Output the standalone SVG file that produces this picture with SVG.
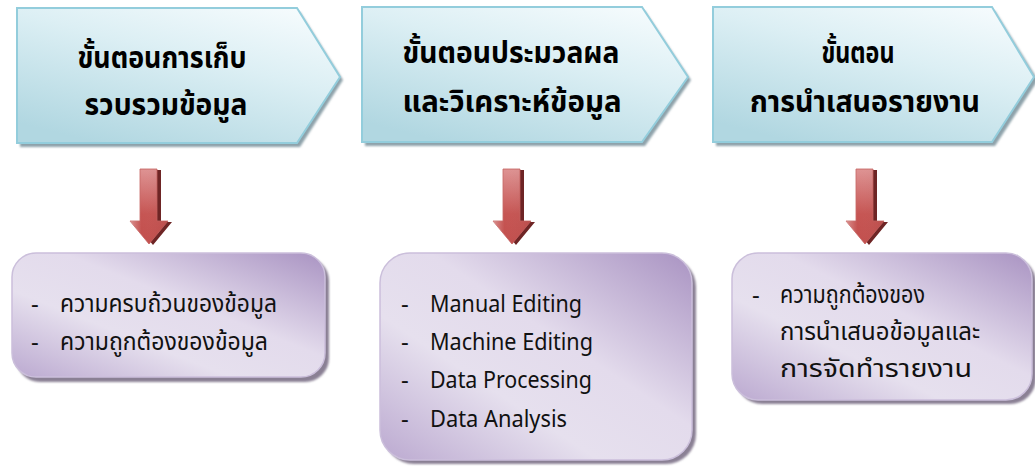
<svg xmlns="http://www.w3.org/2000/svg" width="1035" height="470" viewBox="0 0 1035 470">
<defs>
<linearGradient id="gBlue" x1="0.85" y1="0" x2="0.25" y2="1">
<stop offset="0" stop-color="#f5fbfd"/>
<stop offset="0.4" stop-color="#dceff4"/>
<stop offset="1" stop-color="#b1d7e1"/>
</linearGradient>
<linearGradient id="gPurple" x1="1" y1="0" x2="0" y2="1">
<stop offset="0" stop-color="#a993c2"/>
<stop offset="0.42" stop-color="#e3dbec"/>
<stop offset="0.65" stop-color="#e6e0ee"/>
<stop offset="1" stop-color="#bba9d0"/>
</linearGradient>
<linearGradient id="gRed" x1="0" y1="0" x2="0" y2="1">
<stop offset="0" stop-color="#de9393"/>
<stop offset="0.6" stop-color="#c65553"/>
<stop offset="1" stop-color="#c24f4d"/>
</linearGradient>
<linearGradient id="gRedH" x1="0" y1="0" x2="1" y2="0">
<stop offset="0" stop-color="#ffffff" stop-opacity="0.35"/>
<stop offset="0.3" stop-color="#ffffff" stop-opacity="0"/>
<stop offset="1" stop-color="#000000" stop-opacity="0.05"/>
</linearGradient>
<filter id="blur" x="-10%" y="-10%" width="120%" height="120%">
<feGaussianBlur stdDeviation="1.2"/>
</filter>
<symbol id="arrow" overflow="visible">
<path d="M-9,-74 H8 V-22 H19 L0,1 L-19,-22 H-9 Z"/>
</symbol>
</defs>
<style>
.chev{fill:url(#gBlue);stroke:#93cddc;stroke-width:2}
.chevsh{fill:#8ea2aa;filter:url(#blur)}
.box{fill:url(#gPurple);stroke:#cbbfdb;stroke-width:1.5}
.boxsh{fill:#8a8094;filter:url(#blur)}
.ttl{font-family:"Noto Sans","Noto Sans Thai","Leelawadee UI",Tahoma,sans-serif;font-weight:bold;font-size:30px;fill:#000;text-anchor:middle}
.itm{font-family:"Noto Sans","Noto Sans Thai","Leelawadee UI",Tahoma,sans-serif;font-size:24px;fill:#111}
.lat{font-size:23px}
.ash{fill:#6e2525}
.arr{fill:url(#gRed);stroke:#c4605e;stroke-width:0.8}
.arrhl{fill:url(#gRedH)}
</style>

<g id="step1">
<path class="chevsh" d="M20,12 H300 L343,80 L300,147 H20 Z"/>
<path class="chev" d="M17,8 H297 L340,77 L297,143 H17 Z"/>
<text class="ttl" x="162" y="68" textLength="169" lengthAdjust="spacingAndGlyphs">ขั้นตอนการเก็บ</text>
<text class="ttl" x="166" y="115" textLength="163" lengthAdjust="spacingAndGlyphs">รวบรวมข้อมูล</text>
</g>

<g id="step2">
<path class="chevsh" d="M365,11 H645 L691,80 L645,146 H365 Z"/>
<path class="chev" d="M362,7 H642 L688,77 L642,142 H362 Z"/>
<text class="ttl" x="511" y="63" textLength="217" lengthAdjust="spacingAndGlyphs">ขั้นตอนประมวลผล</text>
<text class="ttl" x="512" y="112" textLength="219" lengthAdjust="spacingAndGlyphs">และวิเคราะห์ข้อมูล</text>
</g>

<g id="step3">
<path class="chevsh" d="M716,11 H995 L1038,80 L995,146 H716 Z"/>
<path class="chev" d="M713,7 H992 L1034,77 L992,142 H713 Z"/>
<text class="ttl" x="858" y="63" textLength="73" lengthAdjust="spacingAndGlyphs">ขั้นตอน</text>
<text class="ttl" x="865" y="112" textLength="230" lengthAdjust="spacingAndGlyphs">การนำเสนอรายงาน</text>
</g>

<g id="connectors">
<g transform="translate(149,243)">
<use href="#arrow" class="ash" transform="translate(4,1)"/>
<use href="#arrow" class="arr"/>
<use href="#arrow" class="arrhl"/>
</g>
<g transform="translate(512,243)">
<use href="#arrow" class="ash" transform="translate(4,1)"/>
<use href="#arrow" class="arr"/>
<use href="#arrow" class="arrhl"/>
</g>
<g transform="translate(865,243)">
<use href="#arrow" class="ash" transform="translate(4,1)"/>
<use href="#arrow" class="arr"/>
<use href="#arrow" class="arrhl"/>
</g>
</g>

<g id="box1">
<rect class="boxsh" x="16" y="257" width="313" height="125" rx="24"/>
<rect class="box" x="12" y="253" width="313" height="124" rx="24"/>
<text class="itm" x="31" y="312">-</text>
<text class="itm" x="60" y="312" textLength="217" lengthAdjust="spacingAndGlyphs">ความครบถ้วนของข้อมูล</text>
<text class="itm" x="31" y="350">-</text>
<text class="itm" x="60" y="350" textLength="208" lengthAdjust="spacingAndGlyphs">ความถูกต้องของข้อมูล</text>
</g>

<g id="box2">
<rect class="boxsh" x="384" y="257" width="312" height="207" rx="30"/>
<rect class="box" x="380" y="253" width="312" height="207" rx="30"/>
<text class="itm" x="401" y="312">-</text>
<text class="itm lat" x="430" y="312" textLength="152" lengthAdjust="spacingAndGlyphs">Manual Editing</text>
<text class="itm" x="401" y="350">-</text>
<text class="itm lat" x="430" y="350" textLength="163" lengthAdjust="spacingAndGlyphs">Machine Editing</text>
<text class="itm" x="401" y="388">-</text>
<text class="itm lat" x="430" y="388" textLength="162" lengthAdjust="spacingAndGlyphs">Data Processing</text>
<text class="itm" x="401" y="427">-</text>
<text class="itm lat" x="430" y="427" textLength="137" lengthAdjust="spacingAndGlyphs">Data Analysis</text>
</g>

<g id="box3">
<rect class="boxsh" x="736" y="257" width="300" height="147" rx="26"/>
<rect class="box" x="732" y="253" width="300" height="147" rx="26"/>
<text class="itm" x="752" y="303">-</text>
<text class="itm" x="780" y="303" textLength="145" lengthAdjust="spacingAndGlyphs">ความถูกต้องของ</text>
<text class="itm" x="780" y="340" textLength="200" lengthAdjust="spacingAndGlyphs">การนำเสนอข้อมูลและ</text>
<text class="itm" x="780" y="377" textLength="192" lengthAdjust="spacingAndGlyphs">การจัดทำรายงาน</text>
</g>
</svg>
